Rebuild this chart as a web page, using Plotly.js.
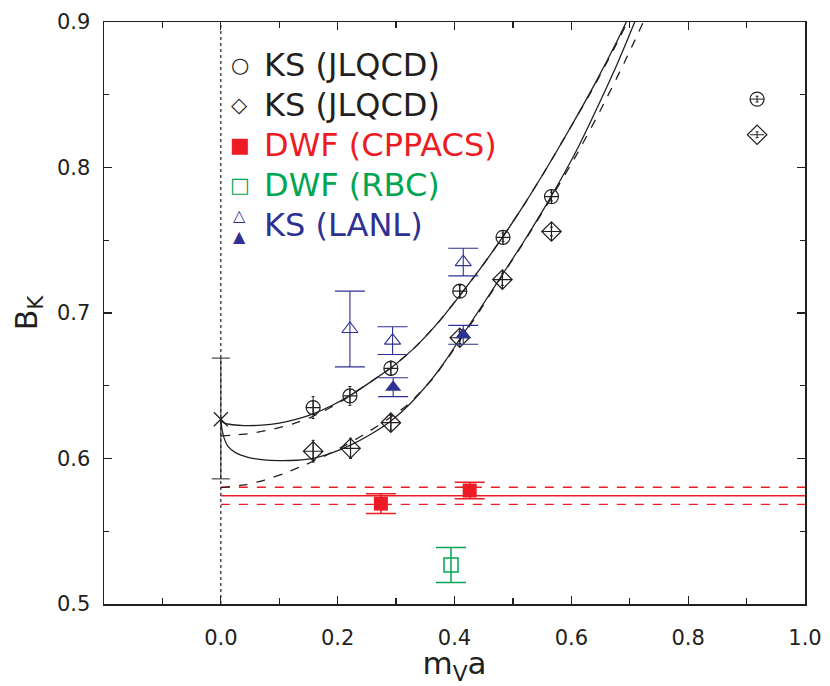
<!DOCTYPE html>
<html>
<head>
<meta charset="utf-8">
<script src="https://cdn.plot.ly/plotly-3.0.1.min.js"></script>
<style>html,body{margin:0;padding:0;background:#fff;}#chart{width:830px;height:686px;}</style>
</head>
<body>
<div id="chart"></div>
<script>
// ---------- data ----------
// KS (JLQCD) set 1 (circles)
const circleX = [0.158, 0.221, 0.291, 0.409, 0.483, 0.566, 0.918];
const circleY = [0.635, 0.643, 0.662, 0.715, 0.752, 0.780, 0.847];
const circleErr = [0.0075, 0.0065, 0.005, 0.004, 0.003, 0.003, 0.002];
const circleErrX = [0, 0, 0, 0, 0, 0, 0.012];
// KS (JLQCD) set 2 (diamonds)
const diamondX = [0.158, 0.222, 0.291, 0.409, 0.482, 0.566, 0.918];
const diamondY = [0.605, 0.607, 0.6246, 0.683, 0.723, 0.756, 0.8225];
const diamondErr = [0.0075, 0.007, 0.005, 0.004, 0.004, 0.003, 0.002];
// chiral extrapolated value (cross at m=0)
const chiralX = [0.0];
const chiralY = [0.627];
const chiralErrPlus = [0.042];
const chiralErrMinus = [0.041];
// DWF (CPPACS)
const cppacsX = [0.274, 0.426];
const cppacsY = [0.569, 0.578];
const cppacsErr = [0.0068, 0.0056];
const cppacsFit = 0.5744, cppacsFitHi = 0.5802, cppacsFitLo = 0.5685;
const cppacsFitRange = [0.0, 1.0];
// DWF (RBC)
const rbcX = [0.394];
const rbcY = [0.5268];
const rbcErr = [0.012];
// KS (LANL) open / filled
const lanlOpenX = [0.221, 0.294, 0.415];
const lanlOpenY = [0.689, 0.681, 0.735];
const lanlOpenErr = [0.026, 0.0095, 0.0095];
const lanlFillX = [0.295, 0.415];
const lanlFillY = [0.649, 0.685];
const lanlFillErr = [0.0065, 0.0065];
// fit curves
const upperSolidX = [0, 0.006, 0.02, 0.04, 0.07, 0.10, 0.13, 0.158, 0.19, 0.221, 0.256, 0.292, 0.33, 0.37, 0.409, 0.445, 0.483, 0.52, 0.56, 0.60, 0.64, 0.68, 0.70];
const upperSolidY = [0.6265, 0.6243, 0.6232, 0.6226, 0.6229, 0.6243, 0.6270, 0.6307, 0.6364, 0.6432, 0.6525, 0.6625, 0.6755, 0.6925, 0.7120, 0.7310, 0.7525, 0.7750, 0.8010, 0.8285, 0.8573, 0.8883, 0.9050];
const upperDashX = [0, 0.02, 0.045, 0.07, 0.095, 0.125, 0.155, 0.185, 0.215, 0.25, 0.292, 0.33, 0.37, 0.409, 0.445, 0.483, 0.52, 0.56, 0.60, 0.64, 0.68, 0.702];
const upperDashY = [0.6155, 0.6160, 0.6170, 0.6186, 0.6207, 0.6240, 0.6285, 0.6345, 0.6415, 0.6510, 0.6625, 0.6755, 0.6925, 0.7120, 0.7310, 0.7525, 0.7750, 0.8010, 0.8285, 0.8565, 0.8870, 0.9050];
const lowerSolidX = [0, 0.002, 0.006, 0.012, 0.025, 0.045, 0.07, 0.10, 0.13, 0.158, 0.19, 0.221, 0.256, 0.291, 0.325, 0.36, 0.385, 0.409, 0.444, 0.478, 0.52, 0.566, 0.61, 0.65, 0.68, 0.705, 0.712];
const lowerSolidY = [0.6265, 0.6200, 0.6135, 0.6085, 0.6040, 0.6010, 0.5992, 0.5985, 0.5988, 0.6001, 0.6038, 0.6090, 0.6165, 0.6258, 0.6380, 0.6540, 0.6675, 0.6820, 0.7030, 0.7240, 0.7500, 0.7805, 0.8125, 0.8460, 0.8725, 0.8965, 0.9035];
const lowerDashX = [0, 0.04, 0.075, 0.11, 0.145, 0.18, 0.215, 0.25, 0.285, 0.32, 0.36, 0.385, 0.409, 0.444, 0.478, 0.52, 0.566, 0.61, 0.65, 0.69, 0.725];
const lowerDashY = [0.5800, 0.5818, 0.5852, 0.5900, 0.5958, 0.6022, 0.6095, 0.6177, 0.6268, 0.6370, 0.6535, 0.6670, 0.6810, 0.7020, 0.7235, 0.7495, 0.7795, 0.8095, 0.8395, 0.8715, 0.9015];
// reference line m=0
const zeroLineX = [0, 0];
const zeroLineY = [0.5, 0.9];
// axes
const xTickVals = [0.0, 0.2, 0.4, 0.6, 0.8, 1.0];
const xTickText = ['0.0', '0.2', '0.4', '0.6', '0.8', '1.0'];
const yTickVals = [0.5, 0.6, 0.7, 0.8, 0.9];
const yTickText = ['0.5', '0.6', '0.7', '0.8', '0.9'];
const legendLabels = ['KS (JLQCD)', 'KS (JLQCD)', 'DWF (CPPACS)', 'DWF (RBC)', 'KS (LANL)'];

// ---------- styling ----------
const BLACK = '#231f20', RED = '#ed1c24', GREEN = '#00a651', BLUE = '#2e3192';
const FONT = 'DejaVu Sans, Verdana, sans-serif';

const traces = [];
function line(x, y, color, dash, width, smooth) {
  const ln = {color: color, dash: dash, width: width};
  if (smooth) { ln.shape = 'spline'; ln.smoothing = 0.6; }
  traces.push({x: x, y: y, type: 'scatter', mode: 'lines', hoverinfo: 'skip',
    line: ln, showlegend: false});
}
line(zeroLineX, zeroLineY, BLACK, 'dot', 1.2, false);
line(cppacsFitRange, cppacsFitRange.map(() => cppacsFit), RED, 'solid', 1.4, false);
line(cppacsFitRange, cppacsFitRange.map(() => cppacsFitHi), RED, 'dash', 1.4, false);
line(cppacsFitRange, cppacsFitRange.map(() => cppacsFitLo), RED, 'dash', 1.4, false);
line(upperDashX, upperDashY, BLACK, 'dash', 1.3, true);
line(lowerDashX, lowerDashY, BLACK, 'dash', 1.3, true);
line(upperSolidX, upperSolidY, BLACK, 'solid', 1.3, true);
line(lowerSolidX, lowerSolidY, BLACK, 'solid', 1.3, true);

traces.push({x: chiralX, y: chiralY, type: 'scatter', mode: 'markers', showlegend: false,
  marker: {symbol: 'x-thin-open', size: 14, color: BLACK, line: {color: BLACK, width: 1.2}},
  error_y: {type: 'data', symmetric: false, array: chiralErrPlus, arrayminus: chiralErrMinus, color: BLACK, thickness: 1, width: 9}});

traces.push({x: circleX, y: circleY, type: 'scatter', mode: 'markers', showlegend: false,
  marker: {symbol: circleX.map((v, i) => circleErrX[i] > 0 ? 'circle-open' : 'circle-cross-open'), size: 14, color: BLACK, line: {color: BLACK, width: 1.2}},
  error_y: {type: 'data', array: circleErr, color: BLACK, thickness: 1, width: 1.5},
  error_x: {type: 'data', array: circleErrX, color: BLACK, thickness: 1, width: 0}});

traces.push({x: diamondX, y: diamondY, type: 'scatter', mode: 'markers', showlegend: false,
  marker: {symbol: diamondX.map((v, i) => circleErrX[i] > 0 ? 'diamond-open' : 'diamond-cross-open'), size: 15, color: BLACK, line: {color: BLACK, width: 1.2}},
  error_y: {type: 'data', array: diamondErr, color: BLACK, thickness: 1, width: 1.5},
  error_x: {type: 'data', array: circleErrX, color: BLACK, thickness: 1, width: 0}});

traces.push({x: cppacsX, y: cppacsY, type: 'scatter', mode: 'markers', showlegend: false,
  marker: {symbol: 'square', size: 14, color: RED},
  error_y: {type: 'data', array: cppacsErr, color: RED, thickness: 1.5, width: 15}});

traces.push({x: rbcX, y: rbcY, type: 'scatter', mode: 'markers', showlegend: false,
  marker: {symbol: 'square-open', size: 14, color: GREEN, line: {color: GREEN, width: 1.5}},
  error_y: {type: 'data', array: rbcErr, color: GREEN, thickness: 1.5, width: 15}});

traces.push({x: lanlOpenX, y: lanlOpenY, type: 'scatter', mode: 'markers', showlegend: false,
  marker: {symbol: 'triangle-up-open', size: 14, color: BLUE, line: {color: BLUE, width: 1.1}},
  error_y: {type: 'data', array: lanlOpenErr, color: BLUE, thickness: 1.1, width: 15}});

traces.push({x: lanlFillX, y: lanlFillY, type: 'scatter', mode: 'markers', showlegend: false,
  marker: {symbol: 'triangle-up', size: 14, color: BLUE},
  error_y: {type: 'data', array: lanlFillErr, color: BLUE, thickness: 1.1, width: 15}});

// ---------- legend as text ----------
const legColors = [BLACK, BLACK, RED, GREEN, BLUE];
const legSymbols = ['○', '◇', '■', '□', null];
const rowY = [0.926, 0.857, 0.789, 0.720, 0.651];
const annotations = [];
legendLabels.forEach((t, i) => {
  annotations.push({xref: 'paper', yref: 'paper', x: 0.2254, y: rowY[i], xanchor: 'left', yanchor: 'middle',
    text: t, showarrow: false, font: {family: FONT, size: 32, color: legColors[i]}});
  if (legSymbols[i]) {
    annotations.push({xref: 'paper', yref: 'paper', x: 0.194, y: rowY[i], xanchor: 'center', yanchor: 'middle',
      text: legSymbols[i], showarrow: false, font: {family: FONT, size: 21, color: legColors[i]}});
  }
});
annotations.push({xref: 'paper', yref: 'paper', x: 0.194, y: 0.667, xanchor: 'center', yanchor: 'middle',
  text: '△', showarrow: false, font: {family: FONT, size: 16, color: BLUE}});
annotations.push({xref: 'paper', yref: 'paper', x: 0.194, y: 0.631, xanchor: 'center', yanchor: 'middle',
  text: '▲', showarrow: false, font: {family: FONT, size: 16, color: BLUE}});

const axisCommon = {showline: true, mirror: 'allticks', linecolor: BLACK, linewidth: 1.5, ticks: 'inside',
  tickcolor: BLACK, tickwidth: 1.2, ticklen: 8, showgrid: false, zeroline: false,
  tickfont: {family: FONT, size: 21, color: BLACK}};

const layout = {
  width: 830, height: 686,
  margin: {l: 104, r: 25, t: 22, b: 82},
  paper_bgcolor: '#ffffff', plot_bgcolor: '#ffffff',
  font: {family: FONT, color: BLACK},
  showlegend: false,
  xaxis: Object.assign({}, axisCommon, {
    range: [-0.2, 1.0], tickmode: 'array', tickvals: xTickVals, ticktext: xTickText,
    ticklabelstandoff: 14,
    minor: {ticks: 'inside', ticklen: 6, tickwidth: 1.2, tickcolor: BLACK, tickmode: 'linear', tick0: 0, dtick: 0.1, showgrid: false},
    title: {text: 'm<sub>V</sub>a', font: {family: FONT, size: 31, color: BLACK}, standoff: 8}
  }),
  yaxis: Object.assign({}, axisCommon, {
    range: [0.5, 0.9], tickmode: 'array', tickvals: yTickVals, ticktext: yTickText,
    ticklabelstandoff: 8,
    minor: {ticks: 'inside', ticklen: 5, tickwidth: 1.2, tickcolor: BLACK, tickmode: 'linear', tick0: 0.5, dtick: 0.05, showgrid: false},
    title: {text: 'B<sub>K</sub>', font: {family: FONT, size: 30, color: BLACK}, standoff: 10}
  }),
  annotations: annotations
};

Plotly.newPlot('chart', traces, layout, {staticPlot: true, displayModeBar: false});
</script>
</body>
</html>
